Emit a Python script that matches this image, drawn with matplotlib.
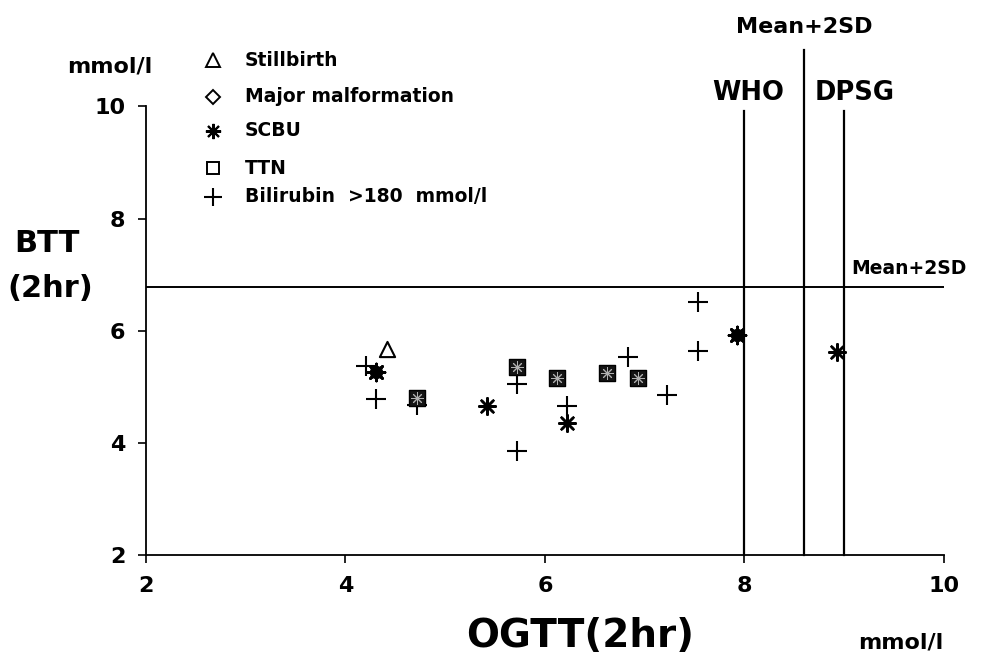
import matplotlib.pyplot as plt

plt.rcParams['font.family'] = ['DejaVu Sans']
plt.rcParams['font.weight'] = 'bold'

# OGTT (2hr) vs BTT (2hr), mmol/l
stillbirth_x = [4.42]
stillbirth_y = [5.68]

# SCBU alone
scbu_x = [5.42, 6.22, 8.93]
scbu_y = [4.66, 4.36, 5.62]

# SCBU + major malformation (dark blobs)
scbu_mal_x = [4.31, 7.93]
scbu_mal_y = [5.27, 5.92]

# TTN (+ SCBU) squares
ttn_x = [4.72, 5.72, 6.12, 6.62, 6.93]
ttn_y = [4.80, 5.36, 5.16, 5.25, 5.16]

bili_x = [4.21, 4.31, 4.72, 5.72, 5.72, 6.22, 6.83, 7.22, 7.53, 7.53]
bili_y = [5.37, 4.78, 4.68, 5.05, 3.86, 4.66, 5.53, 4.85, 6.51, 5.64]

who_limit = 8.0
ogtt_mean2sd = 8.6
dpsg_limit = 9.0
btt_mean2sd = 6.78

legend_labels = ["Stillbirth", "Major malformation", "SCBU", "TTN", "Bilirubin  >180  mmol/l"]

ast = (8, 2, 0)

fig = plt.figure(figsize=(9.95, 6.55), dpi=100)
ax = fig.add_axes([0.1467, 0.1522, 0.8020, 0.6855])
ax.set_xlim(2, 10)
ax.set_ylim(2, 10)

for s in ['top', 'right']:
    ax.spines[s].set_visible(False)
for s in ['left', 'bottom']:
    ax.spines[s].set_linewidth(1.3)

ax.set_xticks([2, 4, 6, 8, 10])
ax.set_yticks([2, 4, 6, 8, 10])
ax.tick_params(direction='out', length=6, width=1.2, labelsize=16, pad=9)
for lab in ax.get_xticklabels() + ax.get_yticklabels():
    lab.set_fontweight('bold')

# threshold lines
ax.axhline(btt_mean2sd, xmin=0, xmax=1, color='black', lw=1.4)
ax.plot([who_limit, who_limit], [2, 9.92], color='black', lw=1.6, clip_on=False)
ax.plot([ogtt_mean2sd, ogtt_mean2sd], [2, 11.0], color='black', lw=1.6, clip_on=False)
ax.plot([dpsg_limit, dpsg_limit], [2, 9.92], color='black', lw=1.6, clip_on=False)

# data points
ax.scatter(bili_x, bili_y, marker='+', s=200, color='black', linewidths=1.5, zorder=3)
ax.scatter(ttn_x, ttn_y, marker='s', s=120, facecolor='#151515', edgecolor='black', linewidths=1, zorder=4)
ax.scatter(ttn_x, ttn_y, marker=ast, s=70, color='#b0b0b0', linewidths=0.7, zorder=5)
ax.scatter(scbu_mal_x, scbu_mal_y, marker='o', s=75, color='black', zorder=4)
ax.scatter(scbu_mal_x, scbu_mal_y, marker=ast, s=150, color='black', linewidths=2, zorder=4)
ax.scatter(scbu_x, scbu_y, marker=ast, s=140, color='black', linewidths=1.8, zorder=4)
ax.scatter(stillbirth_x, stillbirth_y, marker='^', s=120, facecolor='white', edgecolor='black', linewidths=1.5, zorder=4)

# legend drawn in figure pixel coords
leg_markers = [('^', 100, 'white'), ('D', 50, 'white'), (ast, 120, 'black'), ('s', 75, 'white'), ('+', 160, 'black')]
leg_y = [595, 558, 524, 487, 458]
for (m, sz, fc), lab, yy in zip(leg_markers, legend_labels, leg_y):
    if fc == 'white':
        fig.add_artist(plt.Line2D([213 / 995], [yy / 655], marker=m, markersize=sz ** 0.5,
                                  markerfacecolor='white', markeredgecolor='black',
                                  markeredgewidth=1.4, linestyle='none'))
    else:
        fig.add_artist(plt.Line2D([213 / 995], [yy / 655], marker=m, markersize=sz ** 0.5,
                                  color='black', markeredgewidth=1.5, linestyle='none'))
    fig.text(245 / 995, yy / 655, lab, fontsize=13.5, fontweight='bold', va='center', ha='left')

# labels
fig.text(110 / 995, 583 / 655, "mmol/l", fontsize=16, fontweight='bold', ha='center', va='baseline')
fig.text(47 / 995, 412 / 655, "BTT", fontsize=22, fontweight='bold', ha='center', va='center')
fig.text(50 / 995, 367 / 655, "(2hr)", fontsize=22, fontweight='bold', ha='center', va='center')
fig.text(580 / 995, 8 / 655, "OGTT(2hr)", fontsize=28, fontweight='bold', ha='center', va='baseline')
fig.text(901 / 995, 6 / 655, "mmol/l", fontsize=16, fontweight='bold', ha='center', va='baseline')
fig.text(748 / 995, 562 / 655, "WHO", fontsize=18.5, fontweight='bold', ha='center', va='center')
fig.text(855 / 995, 562 / 655, "DPSG", fontsize=18.5, fontweight='bold', ha='center', va='center')
fig.text(804 / 995, 628 / 655, "Mean+2SD", fontsize=16, fontweight='bold', ha='center', va='center')
fig.text(909 / 995, 387 / 655, "Mean+2SD", fontsize=13.5, fontweight='bold', ha='center', va='center')

fig.savefig("out.png", dpi=100)
